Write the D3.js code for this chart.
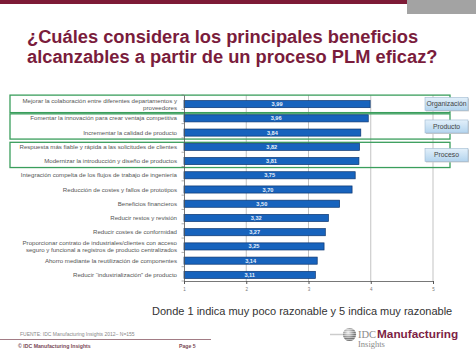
<!DOCTYPE html>
<html><head><meta charset="utf-8">
<script src="https://cdn.jsdelivr.net/npm/d3@7"></script>
<style>
html,body{margin:0;padding:0;background:#fff;}
svg{display:block;font-family:"Liberation Sans",Arial,sans-serif;}
</style></head>
<body>
<svg id="c" width="476" height="357"></svg>
<script>
const titleLines = ["¿Cuáles considera los principales beneficios", "alcanzables a partir de un proceso PLM eficaz?"];
const categories = [
  "Mejorar la colaboración entre diferentes departamentos y\nproveedores",
  "Fomentar la innovación para crear ventaja competitiva",
  "Incrementar la calidad de producto",
  "Respuesta más fiable y rápida a las solicitudes de clientes",
  "Modernizar la introducción y diseño de productos",
  "Integración compelta de  los flujos de trabajo de ingeniería",
  "Reducción de costes y fallos de prototipos",
  "Beneficios financieros",
  "Reducir  restos y revisión",
  "Reducir costes de conformidad",
  "Proporcionar contrato de industriales/clientes con acceso\nseguro y funcional a registros de producto centralizados",
  "Ahorro mediante la reutilización de componentes",
  "Reducir  “industrialización” de producto"
];
const values = [3.99, 3.96, 3.84, 3.82, 3.81, 3.75, 3.70, 3.50, 3.32, 3.27, 3.25, 3.14, 3.11];
const valueLabels = ["3,99","3,96","3,84","3,82","3,81","3,75","3,70","3,50","3,32","3,27","3,25","3,14","3,11"];
const ticks = [1, 2, 3, 4, 5];
const groupNames = ["Organización", "Producto", "Proceso"];
const groupStart = [0, 1, 3];
const groupEnd = [0, 2, 4];
const scaleNote = "Donde 1 indica muy poco razonable y 5 indica muy razonable";
const sourceText = "FUENTE: IDC Manufacturing Insights 2012–  N=155";
const footerLeft = "© IDC Manufacturing Insights";
const footerPage = "Page 5";

const svg = d3.select("#c");
const maroon = "#7a1c3c";

// top band
svg.append("rect").attr("x",0).attr("y",0).attr("width",407).attr("height",4).attr("fill","#7d1a36");
svg.append("rect").attr("x",407).attr("y",0).attr("width",69).attr("height",14).attr("fill","#a3a3a3");

// title
svg.append("g").selectAll("text").data(titleLines).join("text")
  .attr("x",27).attr("y",(d,i)=> i ? 62.5 : 42.5).attr("fill",maroon)
  .attr("font-size",18.3).attr("font-weight","bold").text(d=>d);

// scales
const x = d3.scaleLinear().domain([1,5]).range([184,433]);
const y = d3.scaleBand().domain(d3.range(categories.length)).range([97,282]).paddingInner(0.5).paddingOuter(0.25);
const cy = i => y(i) + y.bandwidth()/2;
const plotTop = 95, plotBottom = 281;

// grid
svg.append("g").selectAll("line").data(ticks.slice(1)).join("line")
  .attr("x1",d=>x(d)).attr("x2",d=>x(d)).attr("y1",plotTop).attr("y2",plotBottom)
  .attr("stroke","#b4b4b4").attr("stroke-width",0.8);

// group boxes
const gb = groupNames.map((n,k)=>{
  const s = groupStart[k], e = groupEnd[k];
  const multiS = categories[s].includes("\n"), multiE = categories[e].includes("\n");
  const top = cy(s) - (multiS ? 9 : 4.5);
  const bot = cy(e) + (multiE ? 8.5 : 6.5);
  return {n, top, bot};
});
svg.append("g").selectAll("rect").data(gb).join("rect")
  .attr("x",10).attr("y",d=>d.top).attr("width",440).attr("height",d=>d.bot-d.top)
  .attr("fill","none").attr("stroke","#3a9e5c").attr("stroke-width",1.3);

// bars
svg.append("g").selectAll("rect").data(values).join("rect")
  .attr("x",x(1)).attr("y",(d,i)=>y(i)).attr("width",d=>x(d)-x(1)).attr("height",y.bandwidth())
  .attr("fill","#1763bd").attr("stroke","#0c3670").attr("stroke-width",0.7);

svg.append("g").selectAll("text").data(values).join("text")
  .attr("x",d=>(x(1)+x(d))/2).attr("y",(d,i)=>cy(i)+2)
  .attr("text-anchor","middle").attr("font-size",5.6).attr("font-weight","bold").attr("fill","#e8f0fa")
  .text((d,i)=>valueLabels[i]);

// category labels
const lab = svg.append("g").attr("font-size",6.1).attr("fill","#555");
categories.forEach((c,i)=>{
  const lines = c.split("\n");
  const t = lab.append("text").attr("text-anchor","end");
  lines.forEach((l,j)=>{
    t.append("tspan").attr("x",177).attr("y",cy(i)+2 + (j - (lines.length-1)/2)*7.2).text(l);
  });
});

// axes
const ax = svg.append("g").attr("transform",`translate(0,${plotBottom})`)
  .call(d3.axisBottom(x).tickValues(ticks).tickSize(3).tickFormat(d3.format("d")));
ax.select(".domain").attr("stroke","#555").attr("stroke-width",0.8);
ax.selectAll(".tick line").attr("stroke","#555");
ax.selectAll(".tick text").attr("font-size",4.5).attr("fill","#777").attr("font-family","Liberation Sans, Arial").attr("dy","0.9em");
const ay = svg.append("g").attr("transform",`translate(${x(1)},0)`)
  .call(d3.axisLeft(d3.scaleLinear().domain([0,1]).range([plotBottom,plotTop])).ticks(0).tickSize(0));
ay.select(".domain").attr("stroke","#555").attr("stroke-width",0.8);
svg.append("g").selectAll("line").data(d3.range(categories.length+1)).join("line")
  .attr("x1",x(1)-2.5).attr("x2",x(1)).attr("y1",i=>plotTop + i*(plotBottom-plotTop)/categories.length)
  .attr("y2",i=>plotTop + i*(plotBottom-plotTop)/categories.length).attr("stroke","#777").attr("stroke-width",0.6);

// group buttons
const defs = svg.append("defs");
const grad = defs.append("linearGradient").attr("id","btn").attr("x1",0).attr("x2",0).attr("y1",0).attr("y2",1);
grad.append("stop").attr("offset","0%").attr("stop-color","#e3f0fa");
grad.append("stop").attr("offset","100%").attr("stop-color","#b3d4ee");
const bg = svg.append("g");
gb.forEach(d=>{
  const m = (d.top+d.bot)/2;
  bg.append("rect").attr("x",426).attr("y",m-6.5+1).attr("width",43).attr("height",13).attr("fill","#c8c8c8");
  bg.append("rect").attr("x",425).attr("y",m-6.5).attr("width",43).attr("height",13)
    .attr("fill","url(#btn)").attr("stroke","#9fb9d0").attr("stroke-width",0.6);
  bg.append("text").attr("x",446.5).attr("y",m+2.3).attr("text-anchor","middle")
    .attr("font-size",6.8).attr("fill","#444").text(d.n);
});

// note
svg.append("text").attr("x",152).attr("y",315).attr("font-size",11).attr("fill","#333").text(scaleNote);

// footer
svg.append("text").attr("x",20).attr("y",335.5).attr("font-size",5).attr("fill","#888").text(sourceText);
svg.append("line").attr("x1",0).attr("x2",211).attr("y1",339.5).attr("y2",339.5).attr("stroke","#8a5a66").attr("stroke-width",0.8);
svg.append("text").attr("x",18).attr("y",347.5).attr("font-size",5.2).attr("font-weight","bold").attr("fill","#7a4a56").text(footerLeft);
svg.append("text").attr("x",179).attr("y",347.5).attr("font-size",5.2).attr("font-weight","bold").attr("fill","#7a4a56").text(footerPage);

// logo
const lg = svg.append("g");
const sg = defs.append("radialGradient").attr("id","sph").attr("cx","40%").attr("cy","35%");
sg.append("stop").attr("offset","0%").attr("stop-color","#f0f0f0");
sg.append("stop").attr("offset","100%").attr("stop-color","#777");
lg.append("circle").attr("cx",349.5).attr("cy",334.5).attr("r",6.6).attr("fill","url(#sph)");
d3.range(6).forEach(k=>{
  lg.append("line").attr("x1",342).attr("x2",357).attr("y1",329.5+k*2).attr("y2",329.5+k*2)
    .attr("stroke","#fff").attr("stroke-width",0.6).attr("opacity",0.8);
});
lg.append("line").attr("x1",330).attr("x2",343).attr("y1",334.5).attr("y2",334.5).attr("stroke","#ccc").attr("stroke-width",1.5);
lg.append("text").attr("x",358).attr("y",337.5).attr("font-family","Liberation Serif, serif").attr("font-size",10.5).attr("fill","#8a8a8a").text("IDC");
lg.append("text").attr("x",377).attr("y",337.5).attr("font-size",11.8).attr("font-weight","bold").attr("fill","#7d1f45").text("Manufacturing");
lg.append("text").attr("x",358).attr("y",347).attr("font-family","Liberation Serif, serif").attr("font-size",8.5).attr("fill","#8a8a8a").text("Insights");
</script>
</body></html>
